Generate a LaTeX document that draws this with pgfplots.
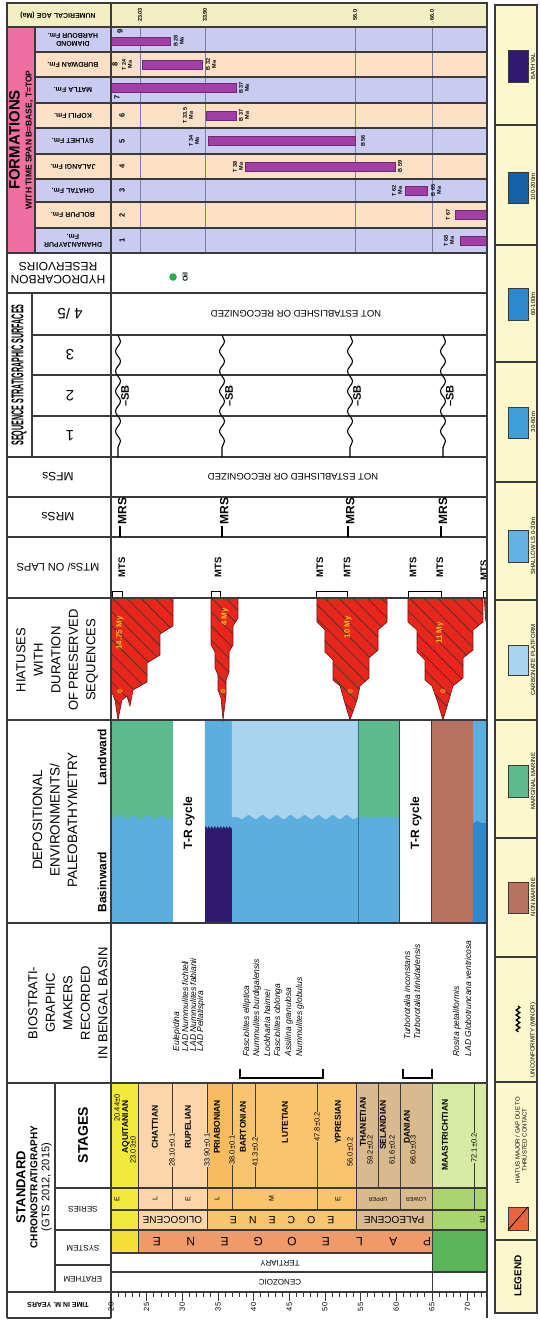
\documentclass[border=0pt]{standalone}
\usepackage{fontspec}
\setmainfont{Liberation Sans}
\usepackage{graphicx}
\usepackage{pgfplots}
\pgfplotsset{compat=1.18}
\usetikzlibrary{patterns.meta,decorations.pathmorphing}
\newcommand{\fs}[2]{\fontsize{#1}{#2}\selectfont}
\definecolor{lin}{HTML}{3A3A3A}
\definecolor{fpink}{HTML}{EF6FA0}
\definecolor{flav}{HTML}{CACBF0}
\definecolor{fpeach}{HTML}{FBE0C6}
\definecolor{fage}{HTML}{F2F0C2}
\definecolor{fbar}{HTML}{A23FA6}
\definecolor{fbarE}{HTML}{6E2A70}
\definecolor{fgrid}{HTML}{7A7CA8}
\definecolor{hred}{HTML}{E8261C}
\definecolor{hyel}{HTML}{F7C31A}
\definecolor{oil}{HTML}{22B04B}
\definecolor{cmarg}{HTML}{5DBA8C}
\definecolor{cshal}{HTML}{5BAEDD}
\definecolor{ccarb}{HTML}{A9D4EF}
\definecolor{cbath}{HTML}{2E1A70}
\definecolor{c100}{HTML}{1561A6}
\definecolor{c60}{HTML}{2F88CC}
\definecolor{c30}{HTML}{3F9DD8}
\definecolor{cshl}{HTML}{62B2E2}
\definecolor{cnon}{HTML}{B87262}
\definecolor{saq}{HTML}{F2EA3A}
\definecolor{solig}{HTML}{FCD6A8}
\definecolor{seoc}{HTML}{F9C46E}
\definecolor{spri}{HTML}{F7BC5E}
\definecolor{spal}{HTML}{D9BA8E}
\definecolor{smaas}{HTML}{D6EAA4}
\definecolor{sser}{HTML}{A9D46F}
\definecolor{spgn}{HTML}{F09A6A}
\definecolor{sneo}{HTML}{F5DF35}
\definecolor{scret}{HTML}{5AB55A}
\definecolor{legbg}{HTML}{FCF8CC}
\definecolor{hleg}{HTML}{E8643C}
\tikzset{
  lne/.style={draw=lin, line width=1.1pt},
  thn/.style={draw=lin, line width=0.8pt},
  thk/.style={draw=lin, line width=1.8pt},
  R/.style={rotate=90, inner sep=0.5pt},
  F/.style={rotate=180, inner sep=0.5pt},
  wav/.style={decoration={snake,segment length=14pt,amplitude=2pt}},
  zz/.style={decoration={zigzag,segment length=3pt,amplitude=1.5pt}},
}
\newcommand{\Hz}[1]{%
  \addplot[fill=hred, draw=none] coordinates {#1} -- cycle;
  \addplot[draw=none, pattern={Lines[angle=-45,distance=10pt,line width=0.6pt]}, pattern color=black!80] coordinates {#1} -- cycle;
  \addplot[draw=hred!50!black, line width=0.6pt] coordinates {#1} -- cycle;}
\begin{document}
\begin{tikzpicture}
\begin{axis}[hide axis, clip=false, x=7.13pt, y=1pt, y dir=reverse,
  xmin=20, xmax=72.73, ymin=0, ymax=1292]
\coordinate (BBa) at (4.432,0);
\coordinate (BBb) at (80.03,1320);
\coordinate (T0) at (20,1292);
% ---------- formation panel backgrounds
\fill[fage] (5.41,3) rectangle (72.73,27);
\fill[flav] (9.34,27) rectangle (72.73,52);
\fill[fpeach] (9.34,52) rectangle (72.73,77);
\fill[flav] (9.34,77) rectangle (72.73,103);
\fill[fpeach] (9.34,103) rectangle (72.73,128);
\fill[flav] (9.34,128) rectangle (72.73,154);
\fill[fpeach] (9.34,154) rectangle (72.73,179);
\fill[flav] (9.34,179) rectangle (72.73,202);
\fill[fpeach] (9.34,202) rectangle (72.73,228);
\fill[flav] (9.34,228) rectangle (72.73,253);
\fill[fpink] (5.41,27) rectangle (9.34,253);
\draw[fgrid, line width=0.8pt] (24.07,27) -- (24.07,253) (33.18,27) -- (33.18,253) (54.22,27) -- (54.22,253) (65.02,27) -- (65.02,253);
% ---------- legend background
\fill[legbg] (73.86,5) rectangle (79.75,1313);
% ---------- depositional environments
\fill[cshal] (20,720) rectangle (28.70,923);
\fill[cmarg] (20,720) -- (28.70,720) -- (28.70,817) decorate[wav]{-- (20,817)} -- cycle;
\fill[cbath] (33.18,720) rectangle (36.97,923);
\fill[cshal] (33.18,720) -- (36.97,720) -- (36.97,827) decorate[zz]{-- (33.18,827)} -- cycle;
\fill[cshal] (36.97,720) rectangle (54.64,923);
\fill[ccarb] (36.97,720) -- (54.64,720) -- (54.64,817) decorate[wav]{-- (36.97,817)} -- cycle;
\fill[cshal] (54.64,720) rectangle (60.53,923);
\fill[cmarg] (54.64,720) -- (60.53,720) -- (60.53,817) decorate[zz]{-- (54.64,817)} -- cycle;
\fill[cnon] (65.02,720) rectangle (70.77,923);
\fill[cshal] (70.77,720) rectangle (72.73,923);
\fill[c60] (70.77,923) -- (70.77,823) decorate[wav]{-- (72.73,823)} -- (72.73,923) -- cycle;
\draw[cshal!65!black, line width=0.6pt] (54.64,720) -- (54.64,923);
\draw[line width=1pt, lin] (60.53,720) rectangle (65.02,923);
% ---------- chronostratigraphy fills
\fill[saq] (20,1083) rectangle (23.79,1230);
\fill[solig] (23.79,1083) rectangle (33.46,1230);
\fill[seoc] (33.46,1083) rectangle (54.36,1230);
\fill[spri] (33.46,1083) rectangle (36.97,1188);
\fill[spal] (54.36,1083) rectangle (65.02,1230);
\fill[smaas] (65.02,1083) rectangle (72.73,1188);
\fill[sser] (65.02,1188) rectangle (72.73,1230);
\fill[sneo] (20,1230) rectangle (23.79,1253);
\fill[spgn] (23.79,1230) rectangle (65.02,1253);
\fill[scret] (65.02,1230) rectangle (72.73,1272);
% ---------- formation time spans (bars)
\addplot[fill=fbar, draw=fbarE, line width=0.5pt] coordinates {(20.00,37) (28.28,37) (28.28,45) (20.00,45)} -- cycle;
\addplot[fill=fbar, draw=fbarE, line width=0.5pt] coordinates {(24.35,60) (32.76,60) (32.76,69) (24.35,69)} -- cycle;
\addplot[fill=fbar, draw=fbarE, line width=0.5pt] coordinates {(20.00,83) (37.53,83) (37.53,92) (20.00,92)} -- cycle;
\addplot[fill=fbar, draw=fbarE, line width=0.5pt] coordinates {(33.32,111) (37.53,111) (37.53,120) (33.32,120)} -- cycle;
\addplot[fill=fbar, draw=fbarE, line width=0.5pt] coordinates {(33.60,136.5) (54.22,136.5) (54.22,145.5) (33.60,145.5)} -- cycle;
\addplot[fill=fbar, draw=fbarE, line width=0.5pt] coordinates {(38.79,162) (59.83,162) (59.83,171) (38.79,171)} -- cycle;
\addplot[fill=fbar, draw=fbarE, line width=0.5pt] coordinates {(61.23,186) (64.32,186) (64.32,195) (61.23,195)} -- cycle;
\addplot[fill=fbar, draw=fbarE, line width=0.5pt] coordinates {(68.25,210.5) (72.73,210.5) (72.73,219.5) (68.25,219.5)} -- cycle;
\addplot[fill=fbar, draw=fbarE, line width=0.5pt] coordinates {(68.95,236) (72.73,236) (72.73,245) (68.95,245)} -- cycle;
% ---------- oil
\addplot[only marks, mark=*, mark size=3.5pt, color=oil] coordinates {(28.70,277)};
% ---------- hiatuses
\Hz{(20.00,598) (28.70,598) (28.70,626) (26.87,634) (26.87,655) (25.05,663) (25.05,682) (23.09,690) (22.66,706) (22.24,696) (21.54,700) (20.98,720) (20.56,700) (20.00,690)}
\Hz{(34.03,598) (37.81,598) (37.81,618) (37.11,626) (37.11,645) (36.55,652) (36.55,672) (36.13,680) (36.13,695) (35.71,720) (35.43,698) (35.01,690) (35.01,675) (34.59,668) (34.59,652) (34.03,645)}
\Hz{(48.89,598) (58.71,598) (58.71,622) (57.45,630) (57.45,650) (56.18,658) (56.18,678) (54.92,686) (54.50,700) (53.52,720) (52.68,700) (52.12,686) (51.14,680) (51.14,660) (50.01,652) (50.01,630) (48.89,622)}
\Hz{(61.65,598) (72.17,598) (72.17,622) (70.77,630) (70.77,650) (69.37,658) (69.37,678) (67.96,686) (67.40,700) (66.56,720) (65.72,700) (65.02,686) (64.04,680) (64.04,660) (62.92,652) (62.92,630) (61.65,622)}
\Hz{(72.35,598) (72.73,598) (72.73,628) (72.52,618)}
% ---------- lines
\draw[lne] (5.41,27) -- (72.73,27) (5.41,253) -- (72.73,253) (5.41,293) -- (72.73,293)
  (5.41,457) -- (72.73,457) (5.41,497) -- (72.73,497) (5.41,537) -- (72.73,537)
  (5.41,598) -- (72.73,598) (5.41,720) -- (72.73,720) (5.41,923) -- (72.73,923)
  (5.41,1083) -- (72.73,1083) (12.15,1188) -- (72.73,1188) (20,1210) -- (72.73,1210)
  (12.15,1230) -- (72.73,1230) (20,1253) -- (65.02,1253) (12.15,1265) -- (20,1265)
  (20,1272) -- (72.73,1272) (5.41,1292) -- (20,1292) (5.41,1318) -- (20,1318);
\draw[lne] (9.34,52) -- (72.73,52) (9.34,77) -- (72.73,77) (9.34,103) -- (72.73,103)
  (9.34,128) -- (72.73,128) (9.34,154) -- (72.73,154) (9.34,179) -- (72.73,179)
  (9.34,202) -- (72.73,202) (9.34,228) -- (72.73,228);
\draw[lne] (8.92,335) -- (72.73,335) (8.92,375) -- (72.73,375) (8.92,416) -- (72.73,416);
\draw[lne] (20,3) -- (20,1318) (9.34,27) -- (9.34,253) (8.92,293) -- (8.92,457) (12.15,1083) -- (12.15,1292);
\draw[thn] (23.79,1083) -- (23.79,1253) (28.56,1083) -- (28.56,1210) (33.46,1083) -- (33.46,1230)
  (36.97,1083) -- (36.97,1210) (40.20,1083) -- (40.20,1188) (48.89,1083) -- (48.89,1210)
  (54.36,1083) -- (54.36,1230) (57.45,1083) -- (57.45,1188) (60.53,1083) -- (60.53,1210)
  (65.02,1083) -- (65.02,1292) (70.91,1083) -- (70.91,1210);
% SB waves
\draw[line width=1.1pt, decorate, decoration={snake,segment length=20pt,amplitude=2.5pt}] (20.98,335) -- (20.98,457);
\draw[line width=1.1pt, decorate, decoration={snake,segment length=20pt,amplitude=2.5pt}] (35.57,335) -- (35.57,457);
\draw[line width=1.1pt, decorate, decoration={snake,segment length=20pt,amplitude=2.5pt}] (53.52,335) -- (53.52,457);
\draw[line width=1.1pt, decorate, decoration={snake,segment length=20pt,amplitude=2.5pt}] (66.56,335) -- (66.56,457);
% MRS ticks
\draw[line width=1.3pt] (21.26,537) -- (21.26,526) (35.57,537) -- (35.57,526) (53.24,537) -- (53.24,526) (66.28,537) -- (66.28,526);
% MTS brackets
\draw[line width=0.9pt] (20.14,598) -- (20.14,591) -- (21.54,591) -- (21.54,598)
  (34.03,598) -- (34.03,591) -- (35.29,591) -- (35.29,598)
  (48.75,598) -- (48.75,591) -- (53.10,591) -- (53.10,598)
  (61.65,598) -- (61.65,591) -- (66.28,591) -- (66.28,598)
  (72.17,598) -- (72.17,591) -- (72.73,591);
% biostrat brackets
\draw[line width=1.1pt] (38.09,1069) -- (38.09,1078) -- (49.73,1078) -- (49.73,1069)
  (60.95,1069) -- (60.95,1078) -- (65.02,1078) -- (65.02,1069);
% ---------- legend
\draw[lne] (73.86,125) -- (79.75,125) (73.86,245) -- (79.75,245) (73.86,362) -- (79.75,362)
  (73.86,482) -- (79.75,482) (73.86,600) -- (79.75,600) (73.86,720) -- (79.75,720)
  (73.86,838) -- (79.75,838) (73.86,957) -- (79.75,957) (73.86,1082) -- (79.75,1082)
  (73.86,1240) -- (79.75,1240);
\draw[thk] (73.86,5) rectangle (79.75,1313);
\fill[cbath, draw=lin] (75.68,50) rectangle (78.48,82);
\fill[c100, draw=lin] (75.68,172) rectangle (78.48,203);
\fill[c60, draw=lin] (75.68,288) rectangle (78.48,320);
\fill[c30, draw=lin] (75.68,407) rectangle (78.48,438);
\fill[cshl, draw=lin] (75.68,530) rectangle (78.48,562);
\fill[ccarb, draw=lin] (75.68,645) rectangle (78.48,675);
\fill[cmarg, draw=lin] (75.68,765) rectangle (78.48,797);
\fill[cnon, draw=lin] (75.68,882) rectangle (78.48,913);
\fill[hleg, draw=lin] (75.68,1207) rectangle (78.48,1230);
\draw[line width=0.8pt] (75.68,1230) -- (78.48,1207);
\draw[line width=1.3pt, decorate, decoration={snake,segment length=5pt,amplitude=1.8pt}] (77.08,1006) -- (77.08,1032);
\node[R, font=\fs{6}{7}] at (79.19,66) {BATHYAL};
\node[R, font=\fs{6}{7}] at (79.19,187) {100-200m};
\node[R, font=\fs{6}{7}] at (79.19,304) {60-100m};
\node[R, font=\fs{6}{7}] at (79.19,422) {30-60m};
\node[R, font=\fs{6}{7}] at (79.19,546) {SHALLOW LS 0-30m};
\node[R, font=\fs{6}{7}] at (79.19,660) {CARBONATE PLATFORM};
\node[R, font=\fs{6}{7}] at (79.19,781) {MARGINAL MARINE};
\node[R, font=\fs{6}{7}] at (79.19,897) {NON MARINE};
\node[R, font=\fs{6}{7}] at (79.19,1040) {UNCONFORMITY (MINOR)};
\node[R, font=\fs{6}{7}, align=center] at (77.50,1140) {HIATUS MAJOR / GAP DUE TO\\THRUSTED CONTACT};
\node[R, font=\fs{10}{11}\bfseries] at (77.08,1276) {LEGEND};
% ---------- formation panel texts
\node[F, font=\fs{7}{8}\bfseries] at (12.57,15) {NUMERICAL AGE (Ma)};
\node[R, font=\fs{5.5}{6}\bfseries, fill=fage] at (24.07,15) {23.03};
\node[R, font=\fs{5.5}{6}\bfseries, fill=fage] at (33.18,15) {33.90};
\node[R, font=\fs{5.5}{6}\bfseries, fill=fage] at (54.22,15) {56.0};
\node[R, font=\fs{5.5}{6}\bfseries, fill=fage] at (65.02,15) {66.0};
\node[R, align=center] at (7.38,140) {\fs{15}{15}\bfseries FORMATIONS\\\fs{8.5}{10}\bfseries WITH TIME SPAN B=BASE, T=TOP};
\node[F, font=\fs{7}{8}\bfseries, align=center] at (14.67,39.5) {DIAMOND\\HARBOUR Fm.};
\node[F, font=\fs{7}{8}\bfseries] at (14.67,64.5) {BURDWAN Fm.};
\node[F, font=\fs{7}{8}\bfseries] at (14.67,90) {MATLA Fm.};
\node[F, font=\fs{7}{8}\bfseries] at (14.67,115.5) {KOPILI Fm.};
\node[F, font=\fs{7}{8}\bfseries] at (14.67,141) {SYLHET Fm.};
\node[F, font=\fs{7}{8}\bfseries] at (14.67,166.5) {JALANGI Fm.};
\node[F, font=\fs{7}{8}\bfseries] at (14.67,190.5) {GHATAL Fm.};
\node[F, font=\fs{7}{8}\bfseries] at (14.67,215) {BOLPUR Fm.};
\node[F, font=\fs{7}{8}\bfseries, align=center] at (14.67,240.5) {DHANANJAYPUR\\Fm.};
\node[R, font=\fs{7.5}{8}\bfseries] at (21.26,31) {9};
\node[R, font=\fs{7.5}{8}\bfseries] at (20.56,64.5) {8};
\node[R, font=\fs{7.5}{8}\bfseries] at (20.84,97) {7};
\node[R, font=\fs{7.5}{8}\bfseries] at (21.54,115.5) {6};
\node[R, font=\fs{7.5}{8}\bfseries] at (21.54,141) {5};
\node[R, font=\fs{7.5}{8}\bfseries] at (21.54,166.5) {4};
\node[R, font=\fs{7.5}{8}\bfseries] at (21.54,190.5) {3};
\node[R, font=\fs{7.5}{8}\bfseries] at (21.54,215) {2};
\node[R, font=\fs{7.5}{8}\bfseries] at (21.54,240.5) {1};
\node[R, font=\fs{5.5}{6}\bfseries, align=center] at (29.50,41) {B 28\\Ma};
\node[R, font=\fs{5.5}{6}\bfseries, align=center] at (22.24,64.5) {T 24\\Ma};
\node[R, font=\fs{5.5}{6}\bfseries, align=center] at (34.03,64.5) {B 32\\Ma};
\node[R, font=\fs{5.5}{6}\bfseries, align=center] at (38.65,88) {B 37\\Ma};
\node[R, font=\fs{5.5}{6}\bfseries, align=center] at (30.80,115.5) {T 33.5\\Ma};
\node[R, font=\fs{5.5}{6}\bfseries, align=center] at (38.65,115.5) {B 37\\Ma};
\node[R, font=\fs{5.5}{6}\bfseries, align=center] at (31.64,141) {T 34\\Ma};
\node[R, font=\fs{5.5}{6}\bfseries] at (55.34,141) {B 56};
\node[R, font=\fs{5.5}{6}\bfseries, align=center] at (37.81,166.5) {T 38\\Ma};
\node[R, font=\fs{5.5}{6}\bfseries] at (60.53,166.5) {B 59};
\node[R, font=\fs{5.5}{6}\bfseries, align=center] at (60.11,190.5) {T 62\\Ma};
\node[R, font=\fs{5.5}{6}\bfseries, align=center] at (65.58,190.5) {B 65\\Ma};
\node[R, font=\fs{5.5}{6}\bfseries] at (67.26,215) {T 67};
\node[R, font=\fs{5.5}{6}\bfseries, align=center] at (67.40,240.5) {T 68\\Ma};
% ---------- hydrocarbon
\node[F, font=\fs{12}{13}, align=center] at (12.57,273) {HYDROCARBON\\RESERVOIRS};
\node[R, font=\fs{7}{8}\bfseries] at (30.38,277) {Oil};
% ---------- sequence stratigraphy
\node[R] at (7.10,375) {\scalebox{0.42}[1]{\fs{17}{18}\bfseries SEQUENCE STRATIGRAPHIC SURFACES}};
\node[F, font=\fs{15}{16}] at (14.25,314) {4 /5};
\node[F, font=\fs{15}{16}] at (14.25,355) {3};
\node[F, font=\fs{15}{16}] at (14.25,396) {2};
\node[F, font=\fs{15}{16}] at (14.25,436) {1};
\node[F, font=\fs{9.5}{10}] at (45.95,314) {NOT ESTABLISHED OR RECOGNIZED};
\node[F, font=\fs{9.5}{10}] at (45.53,477) {NOT ESTABLISHED OR RECOGNIZED};
\node[R, font=\fs{11}{12}\bfseries] at (21.96,396) {--SB};
\node[R, font=\fs{11}{12}\bfseries] at (36.55,396) {--SB};
\node[R, font=\fs{11}{12}\bfseries] at (54.50,396) {--SB};
\node[R, font=\fs{11}{12}\bfseries] at (67.54,396) {--SB};
\node[F, font=\fs{12}{13}] at (12.57,477) {MFSs};
\node[F, font=\fs{12}{13}] at (12.57,517) {MRSs};
\node[F, font=\fs{11}{12}] at (12.57,567) {MTSs/ ON LAPS};
\node[R, anchor=west, font=\fs{12}{13}\bfseries] at (21.56,525) {MRS};
\node[R, anchor=west, font=\fs{12}{13}\bfseries] at (35.87,525) {MRS};
\node[R, anchor=west, font=\fs{12}{13}\bfseries] at (53.54,525) {MRS};
\node[R, anchor=west, font=\fs{12}{13}\bfseries] at (66.58,525) {MRS};
\node[R, font=\fs{9.5}{10}\bfseries] at (21.54,567) {MTS};
\node[R, font=\fs{9.5}{10}\bfseries] at (35.01,567) {MTS};
\node[R, font=\fs{9.5}{10}\bfseries] at (49.31,567) {MTS};
\node[R, font=\fs{9.5}{10}\bfseries] at (53.10,567) {MTS};
\node[R, font=\fs{9.5}{10}\bfseries] at (62.36,567) {MTS};
\node[R, font=\fs{9.5}{10}\bfseries] at (66.14,567) {MTS};
\node[R, font=\fs{9.5}{10}\bfseries] at (72.30,570) {MTS};
% ---------- hiatus texts
\node[R, font=\fs{13}{17.5}, align=center] at (12.43,660) {HIATUSES\\WITH\\DURATION\\OF PRESERVED\\SEQUENCES};
\node[R, text=hyel, font=\fs{8}{9}\bfseries] at (21.26,633) {14.75 My};
\node[R, text=hyel, font=\fs{8}{9}\bfseries] at (35.99,617) {4 My};
\node[R, text=hyel, font=\fs{8}{9}\bfseries] at (53.24,627) {10 My};
\node[R, text=hyel, font=\fs{8}{9}\bfseries] at (66.14,633) {11 My};
\node[R, text=hyel, font=\fs{7}{8}\bfseries] at (21.26,692) {0};
\node[R, text=hyel, font=\fs{7}{8}\bfseries] at (35.71,692) {0};
\node[R, text=hyel, font=\fs{7}{8}\bfseries] at (53.58,692) {0};
\node[R, text=hyel, font=\fs{7}{8}\bfseries] at (66.56,692) {0};
% ---------- depositional texts
\node[R, font=\fs{13.5}{17.5}, align=center] at (12.15,820) {DEPOSITIONAL\\ENVIRONMENTS/\\PALEOBATHYMETRY};
\node[R, font=\fs{12}{13}\bfseries] at (18.74,882) {Basinward};
\node[R, font=\fs{12}{13}\bfseries] at (18.74,757) {Landward};
\node[R, font=\fs{12}{13}\bfseries] at (30.94,823) {T-R cycle};
\node[R, font=\fs{12}{13}\bfseries] at (62.78,823) {T-R cycle};
% ---------- biostratigraphy
\node[R, font=\fs{13}{17.5}, align=center] at (13.97,1003) {BIOSTRATI-\\GRAPHIC\\MAKERS\\RECORDED\\IN BENGAL BASIN};
\node[R, anchor=west, font=\fs{8.5}{9}\itshape] at (29.26,1052) {Eulepidina};
\node[R, anchor=west, font=\fs{8.5}{9}\itshape] at (30.38,1052) {LAD Nummulites fichteli};
\node[R, anchor=west, font=\fs{8.5}{9}\itshape] at (31.50,1052) {LAD Nummulites fabianii};
\node[R, anchor=west, font=\fs{8.5}{9}\itshape] at (32.62,1052) {LAD Pellatispira};
\node[R, anchor=west, font=\fs{8.5}{9}\itshape] at (39.07,1057) {Fasciolites elliptica};
\node[R, anchor=west, font=\fs{8.5}{9}\itshape] at (40.48,1057) {Nummulites burdigalensis};
\node[R, anchor=west, font=\fs{8.5}{9}\itshape] at (41.88,1057) {Lockhartia haimei};
\node[R, anchor=west, font=\fs{8.5}{9}\itshape] at (43.42,1057) {Fasciolites oblonga};
\node[R, anchor=west, font=\fs{8.5}{9}\itshape] at (44.96,1057) {Assilina granulosa};
\node[R, anchor=west, font=\fs{8.5}{9}\itshape] at (46.51,1057) {Nummulites globulus};
\node[R, anchor=west, font=\fs{8.5}{9}\itshape] at (61.51,1040) {Turborotalia inconstans};
\node[R, anchor=west, font=\fs{8.5}{9}\itshape] at (62.92,1040) {Turborotalia trinidadensis};
\node[R, anchor=west, font=\fs{8.5}{9}\itshape] at (68.53,1057) {Rosita petaliformis};
\node[R, anchor=west, font=\fs{8.5}{9}\itshape] at (70.07,1057) {LAD Globotruncana ventricosa};
% ---------- chronostratigraphy texts
\node[R, align=center] at (9.20,1187) {\fs{13}{14.5}\bfseries STANDARD\\\bfseries CHRONOSTRATIGRAPHY\\\fs{11}{13}\mdseries (GTS 2012, 2015)};
\node[R, font=\fs{14}{15}\bfseries] at (16.07,1135) {STAGES};
\node[F, font=\fs{8}{9}] at (16.07,1209) {SERIES};
\node[F, font=\fs{8}{9}] at (16.07,1248) {SYSTEM};
\node[F, font=\fs{8}{9}] at (16.07,1279) {ERATHEM};
\node[F, font=\fs{7}{8}\bfseries] at (12.57,1305) {TIME IN M. YEARS};
\node[R, font=\fs{8.5}{9}\bfseries] at (22.10,1127) {AQUITANIAN};
\node[R, font=\fs{8.5}{9}\bfseries] at (26.17,1127) {CHATTIAN};
\node[R, font=\fs{8.5}{9}\bfseries] at (30.80,1127) {RUPELIAN};
\node[R, font=\fs{8.5}{9}\bfseries] at (34.87,1127) {PRIABONIAN};
\node[R, font=\fs{8.5}{9}\bfseries] at (38.51,1127) {BARTONIAN};
\node[R, font=\fs{8.5}{9}\bfseries] at (44.40,1122) {LUTETIAN};
\node[R, font=\fs{8.5}{9}\bfseries] at (51.84,1122) {YPRESIAN};
\node[R, font=\fs{8.5}{9}\bfseries] at (55.34,1122) {THANETIAN};
\node[R, font=\fs{8.5}{9}\bfseries] at (58.15,1125) {SELANDIAN};
\node[R, font=\fs{8.5}{9}\bfseries] at (61.51,1127) {DANIAN};
\node[R, font=\fs{8.5}{9}\bfseries] at (66.84,1135) {MAASTRICHTIAN};
\node[R, font=\fs{7.5}{8}] at (20.84,1108) {20.44±0};
\node[R, font=\fs{7.5}{8}] at (23.09,1150) {23.03±0};
\node[R, font=\fs{7.5}{8}, fill=solig] at (28.56,1150) {28.10±0.1};
\node[R, font=\fs{7.5}{8}, fill=solig] at (33.46,1150) {33.90±0.1};
\node[R, font=\fs{7.5}{8}, fill=seoc] at (36.97,1150) {38.0±0.1};
\node[R, font=\fs{7.5}{8}, fill=seoc] at (40.20,1152) {41.3±0.2};
\node[R, font=\fs{7.5}{8}, fill=seoc] at (48.89,1127) {47.8±0.2};
\node[R, font=\fs{7.5}{8}] at (53.52,1152) {56.0±0.2};
\node[R, font=\fs{7.5}{8}] at (56.32,1150) {59.2±0.2};
\node[R, font=\fs{7.5}{8}] at (59.41,1150) {61.6±0.2};
\node[R, font=\fs{7.5}{8}] at (62.36,1150) {66.0±0.3};
\node[R, font=\fs{7.5}{8}, fill=smaas] at (70.91,1148) {72.1±0.2};
\node[R, font=\fs{7}{8}] at (20.84,1199) {E};
\node[R, font=\fs{7}{8}] at (26.17,1199) {L};
\node[R, font=\fs{7}{8}] at (30.80,1199) {E};
\node[R, font=\fs{7}{8}] at (34.87,1199) {L};
\node[R, font=\fs{7}{8}] at (42.50,1199) {M};
\node[R, font=\fs{7}{8}] at (51.84,1199) {E};
\node[F, font=\fs{5.5}{6}] at (57.45,1199) {UPPER};
\node[F, font=\fs{5.5}{6}] at (62.78,1199) {LOWER};
\node[F, font=\fs{10}{11}] at (28.62,1220) {OLIGOCENE};
\node[F, font=\fs{10.5}{11}] at (44.0,1220) {E\hspace{12pt}O\hspace{12pt}C\hspace{12pt}E\hspace{12pt}N\hspace{12pt}E};
\node[F, font=\fs{10}{11}] at (59.70,1220) {PALEOCENE};
\node[F, font=\fs{9}{10}] at (72.10,1220) {E};
\node[F, font=\fs{12}{13}] at (64.32,1242) {P};
\node[F, font=\fs{12}{13}] at (59.59,1242) {A};
\node[F, font=\fs{12}{13}] at (54.85,1242) {L};
\node[F, font=\fs{12}{13}] at (50.12,1242) {E};
\node[F, font=\fs{12}{13}] at (45.39,1242) {O};
\node[F, font=\fs{12}{13}] at (40.65,1242) {G};
\node[F, font=\fs{12}{13}] at (35.92,1242) {E};
\node[F, font=\fs{12}{13}] at (31.19,1242) {N};
\node[F, font=\fs{12}{13}] at (26.45,1242) {E};
\node[F, font=\fs{8}{9}] at (43.70,1263) {TERTIARY};
\node[F, font=\fs{8}{9}] at (43.70,1282) {CENOZOIC};
% ---------- outer frame
\draw[thk] (5.41,1318) -- (5.41,3) -- (72.73,3) -- (72.73,1318);
\end{axis}
\begin{axis}[at={(T0)}, anchor=south west, x=7.13pt, y=1pt,
  xmin=20, xmax=72.73, ymin=0, ymax=1,
  axis x line*=bottom, axis y line=none,
  xtick={20,25,...,70}, minor xtick={20,21,...,72},
  tick align=outside, major tick length=9pt, minor tick length=5pt,
  every tick/.style={lin, line width=0.7pt},
  x axis line style={lin, line width=1.2pt, -},
  xticklabel style={rotate=90, anchor=east, font=\fs{7.5}{8}, inner sep=1.5pt},
  /pgf/number format/assume math mode=true]
\addplot[draw=none] coordinates {(20,0)};
\end{axis}
\pgfresetboundingbox
\path[use as bounding box] (BBa) rectangle (BBb);
\end{tikzpicture}
\end{document}
